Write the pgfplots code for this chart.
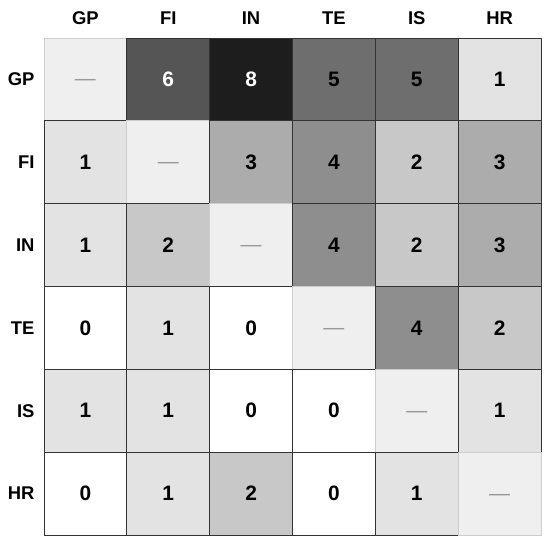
\documentclass[border=0pt]{standalone}
\usepackage{pgfplots}
\pgfplotsset{compat=1.18}
\usepackage{pgfplotstable}
\usepackage{fontspec}
\setmainfont{Liberation Sans}

% grey levels of the cells
\definecolor{cd}{HTML}{EFEFEF}
\definecolor{cdline}{HTML}{CDCDCD}
\definecolor{c0}{HTML}{FFFFFF}
\definecolor{c1}{HTML}{E3E3E3}
\definecolor{c2}{HTML}{C8C8C8}
\definecolor{c3}{HTML}{ACACAC}
\definecolor{c4}{HTML}{8E8E8E}
\definecolor{c5}{HTML}{6E6E6E}
\definecolor{c6}{HTML}{555555}
\definecolor{c8}{HTML}{1D1D1D}
\definecolor{cline}{HTML}{333333}
\definecolor{dashgray}{HTML}{999999}

% cells, row by row (GP at top = y 5)
\pgfplotstableread{
x y c
0 5 d
1 5 v6
2 5 v8
3 5 v5
4 5 v5
5 5 v1
0 4 v1
1 4 d
2 4 v3
3 4 v4
4 4 v2
5 4 v3
0 3 v1
1 3 v2
2 3 d
3 3 v4
4 3 v2
5 3 v3
0 2 v0
1 2 v1
2 2 v0
3 2 d
4 2 v4
5 2 v2
0 1 v1
1 1 v1
2 1 v0
3 1 v0
4 1 d
5 1 v1
0 0 v0
1 0 v1
2 0 v2
3 0 v0
4 0 v1
5 0 d
}\cells

% values printed in black
\pgfplotstableread{
x y n
3 5 5
4 5 5
5 5 1
0 4 1
2 4 3
3 4 4
4 4 2
5 4 3
0 3 1
1 3 2
3 3 4
4 3 2
5 3 3
0 2 0
1 2 1
2 2 0
4 2 4
5 2 2
0 1 1
1 1 1
2 1 0
3 1 0
5 1 1
0 0 0
1 0 1
2 0 2
3 0 0
4 0 1
}\blacklabels

% values printed in white
\pgfplotstableread{
x y n
1 5 6
2 5 8
}\whitelabels

% diagonal
\pgfplotstableread{
x y
0 5
1 4
2 3
3 2
4 1
5 0
}\diagonal

\begin{document}
\begin{tikzpicture}
  \begin{axis}[
    name=ax,
    scale only axis,
    width=497bp, height=497bp,
    xmin=-0.5, xmax=5.5,
    ymin=-0.5, ymax=5.5,
    axis line style={draw=none},
    tick style={draw=none},
    xtick={0,...,5},
    xticklabels={GP,FI,IN,TE,IS,HR},
    ytick={0,...,5},
    yticklabels={HR,IS,TE,IN,FI,GP},
    xticklabel pos=upper,
    ticklabel style={font=\bfseries\fontsize{18.5}{18.5}\selectfont},
    xticklabel style={yshift=10bp},
    yticklabel style={xshift=-6bp},
    clip=false,
  ]
    \addplot[
      scatter, only marks,
      scatter src=explicit symbolic,
      mark size=41.42bp,
      scatter/classes={
        d={mark=square*, draw=cdline, fill=cd, line width=0.8bp},
        v0={mark=square*, draw=cline, fill=c0, line width=0.8bp},
        v1={mark=square*, draw=cline, fill=c1, line width=0.8bp},
        v2={mark=square*, draw=cline, fill=c2, line width=0.8bp},
        v3={mark=square*, draw=cline, fill=c3, line width=0.8bp},
        v4={mark=square*, draw=cline, fill=c4, line width=0.8bp},
        v5={mark=square*, draw=cline, fill=c5, line width=0.8bp},
        v6={mark=square*, draw=cline, fill=c6, line width=0.8bp},
        v8={mark=square*, draw=cline, fill=c8, line width=0.8bp}
      },
    ] table[x=x, y=y, meta=c] {\cells};

    \addplot[
      only marks, mark=none,
      point meta=explicit symbolic,
      nodes near coords,
      nodes near coords align=center,
      every node near coord/.append style={
        font=\bfseries\fontsize{21}{21}\selectfont, text=black},
    ] table[x=x, y=y, meta=n] {\blacklabels};

    \addplot[
      only marks, mark=none,
      point meta=explicit symbolic,
      nodes near coords,
      nodes near coords align=center,
      every node near coord/.append style={
        font=\bfseries\fontsize{21}{21}\selectfont, text=white},
    ] table[x=x, y=y, meta=n] {\whitelabels};

    \addplot[
      only marks, mark=none,
      nodes near coords={—},
      nodes near coords align=center,
      every node near coord/.append style={
        font=\fontsize{21}{21}\selectfont, text=dashgray, yshift=-3.5bp},
    ] table[x=x, y=y] {\diagonal};

    \coordinate (bl) at (rel axis cs:0,0);
    \coordinate (tr) at (rel axis cs:1,1);
  \end{axis}
  \pgfresetboundingbox
  \path[use as bounding box] ([shift={(-44bp,-8bp)}]bl) rectangle ([shift={(9bp,38bp)}]tr);
\end{tikzpicture}
\end{document}
